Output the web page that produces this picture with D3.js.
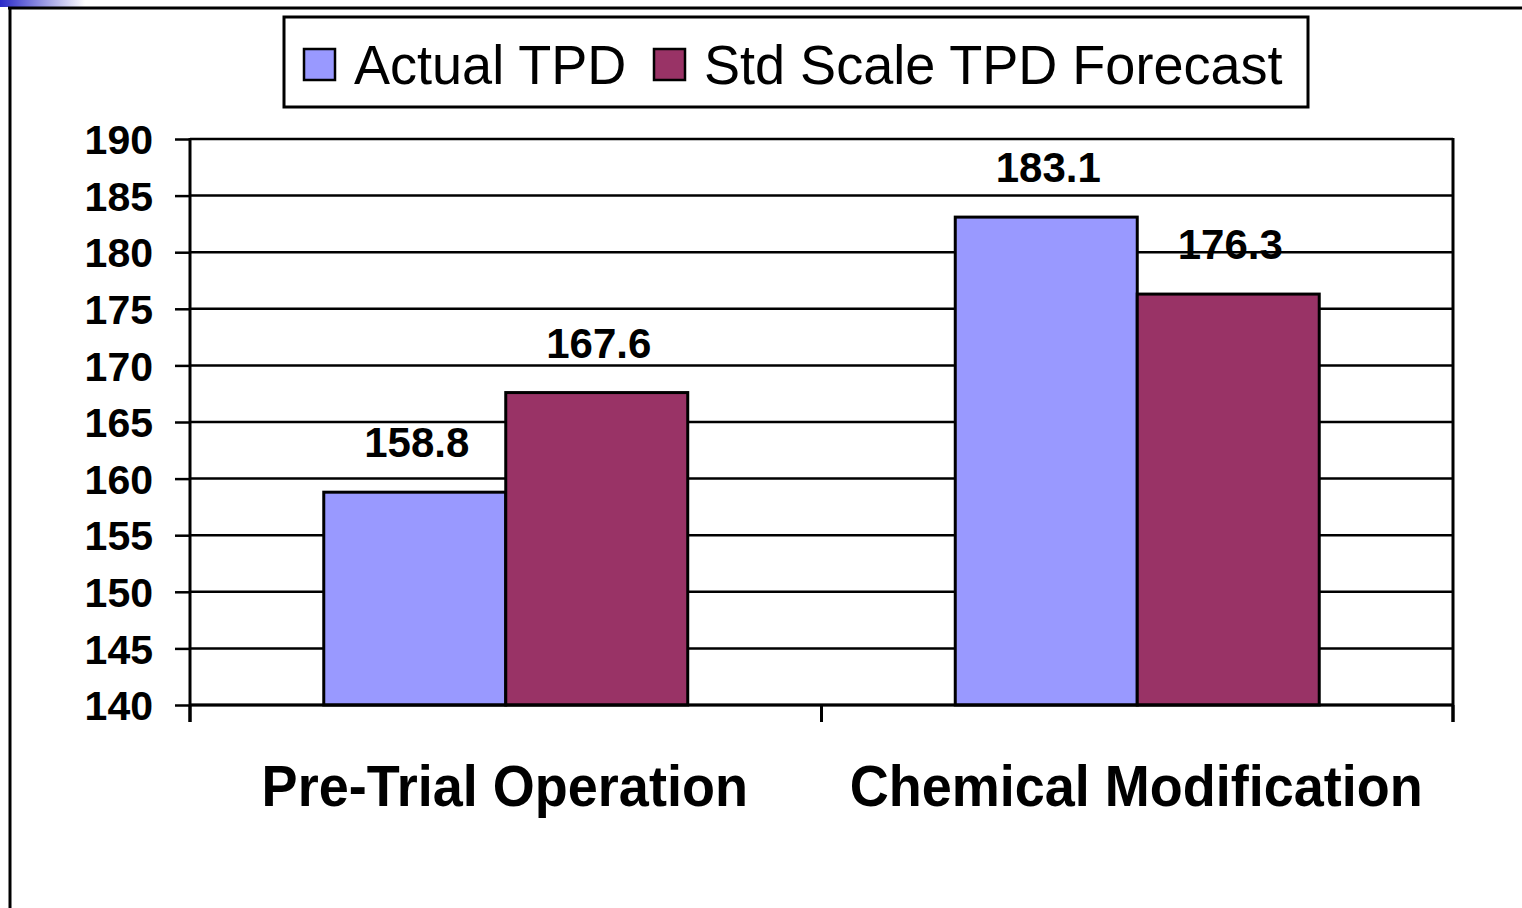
<!DOCTYPE html>
<html>
<head>
<meta charset="utf-8">
<script src="https://cdn.jsdelivr.net/npm/d3@7"></script>
<style>
  html, body { margin: 0; padding: 0; background: #fff; }
  svg { display: block; }
  text { font-family: "Liberation Sans", Arial, sans-serif; }
</style>
</head>
<body>
<svg id="chart" width="1522" height="908"></svg>
<script>
// ---- data ----
const categories = ["Pre-Trial Operation", "Chemical Modification"];
const seriesNames = ["Actual TPD", "Std Scale TPD Forecast"];
const actualTPD = [158.8, 183.1];
const forecastTPD = [167.6, 176.3];
const yTicks = [140, 145, 150, 155, 160, 165, 170, 175, 180, 185, 190];
const seriesColors = ["#9999FF", "#993366"];

const seriesValues = [actualTPD, forecastTPD];

const svg = d3.select("#chart");

// slide decoration: gradient strip + frame lines
const defs = svg.append("defs");
const grad = defs.append("linearGradient").attr("id", "strip").attr("x1", 0).attr("x2", 1);
grad.append("stop").attr("offset", 0).attr("stop-color", "#2a2ac8");
grad.append("stop").attr("offset", 1).attr("stop-color", "#ffffff");
svg.append("rect").attr("x", 0).attr("y", 0).attr("width", 85).attr("height", 7).attr("fill", "url(#strip)");
svg.append("line").attr("x1", 8).attr("x2", 1522).attr("y1", 8).attr("y2", 8)
  .attr("stroke", "#000").attr("stroke-width", 3);
svg.append("line").attr("x1", 10).attr("x2", 10).attr("y1", 7).attr("y2", 908)
  .attr("stroke", "#000").attr("stroke-width", 3);

// plot geometry
const pLeft = 190, pRight = 1453, pTop = 139, pBottom = 705;

const y = d3.scaleLinear().domain([140, 190]).range([pBottom, pTop]);
const x0 = d3.scaleBand().domain(categories).range([pLeft, pRight]).padding(0);
const x1 = d3.scaleBand().domain(seriesNames).range([0, x0.bandwidth()])
  .paddingInner(0).paddingOuter(0.735);

// gridlines
svg.append("g").selectAll("line").data(yTicks).join("line")
  .attr("x1", pLeft).attr("x2", pRight)
  .attr("y1", d => y(d)).attr("y2", d => y(d))
  .attr("stroke", "#000").attr("stroke-width", 2.5);

// right border
svg.append("line").attr("x1", pRight).attr("x2", pRight).attr("y1", pTop - 1).attr("y2", pBottom + 17)
  .attr("stroke", "#000").attr("stroke-width", 3);

// bars
const barData = [];
categories.forEach((c, i) => seriesNames.forEach((s, j) => barData.push({ c, s, v: seriesValues[j][i], j })));

svg.append("g").selectAll("rect").data(barData).join("rect")
  .attr("x", d => x0(d.c) + x1(d.s))
  .attr("y", d => y(d.v))
  .attr("width", x1.bandwidth())
  .attr("height", d => y(140) - y(d.v))
  .attr("fill", d => seriesColors[d.j])
  .attr("stroke", "#000").attr("stroke-width", 3);

// value labels
svg.append("g").selectAll("text").data(barData).join("text")
  .attr("x", d => x0(d.c) + x1(d.s) + x1.bandwidth() / 2 + 2)
  .attr("y", d => y(d.v) - 35)
  .attr("text-anchor", "middle")
  .attr("font-size", 42).attr("font-weight", "bold")
  .text(d => d.v.toFixed(1));

// y axis
const yAxis = d3.axisLeft(y).tickValues(yTicks).tickSize(15).tickPadding(22);
const gy = svg.append("g").attr("transform", `translate(${pLeft},0)`).call(yAxis);
gy.select(".domain").attr("stroke", "#000").attr("stroke-width", 3)
  .attr("d", `M0,${pTop - 1}V${pBottom + 17}`);
gy.selectAll(".tick line").attr("stroke", "#000").attr("stroke-width", 2.5);
gy.selectAll(".tick text").attr("font-size", 41).attr("font-weight", "bold")
  .attr("fill", "#000").attr("font-family", "'Liberation Sans', Arial, sans-serif")
  .attr("dy", "0.36em");

// x axis (bottom line + ticks at category boundaries)
svg.append("line").attr("x1", pLeft).attr("x2", pRight).attr("y1", pBottom).attr("y2", pBottom)
  .attr("stroke", "#000").attr("stroke-width", 3);
const boundaries = categories.map(c => x0(c)).concat([pRight]);
svg.append("g").selectAll("line").data(boundaries).join("line")
  .attr("x1", d => d).attr("x2", d => d).attr("y1", pBottom).attr("y2", pBottom + 17)
  .attr("stroke", "#000").attr("stroke-width", 3);

// category labels
svg.append("g").selectAll("g").data(categories).join("g")
  .attr("transform", d => `translate(${x0(d) + x0.bandwidth() / 2 - 1},806) scale(0.948,1)`)
  .append("text")
  .attr("text-anchor", "middle")
  .attr("font-size", 57).attr("font-weight", "bold")
  .text(d => d);

// legend
svg.append("rect").attr("x", 284).attr("y", 17).attr("width", 1024).attr("height", 90)
  .attr("fill", "#fff").attr("stroke", "#000").attr("stroke-width", 3);
const legendX = [304, 654];
const lg = svg.append("g").selectAll("g").data(seriesNames).join("g")
  .attr("transform", (d, i) => `translate(${legendX[i]},0)`);
lg.append("rect").attr("x", 0).attr("y", 49).attr("width", 31).attr("height", 31)
  .attr("fill", (d, i) => seriesColors[i]).attr("stroke", "#000").attr("stroke-width", 2.5);
lg.append("g").attr("transform", "translate(50,84) scale(0.965,1)")
  .append("text").attr("font-size", 56).text(d => d);
</script>
</body>
</html>
